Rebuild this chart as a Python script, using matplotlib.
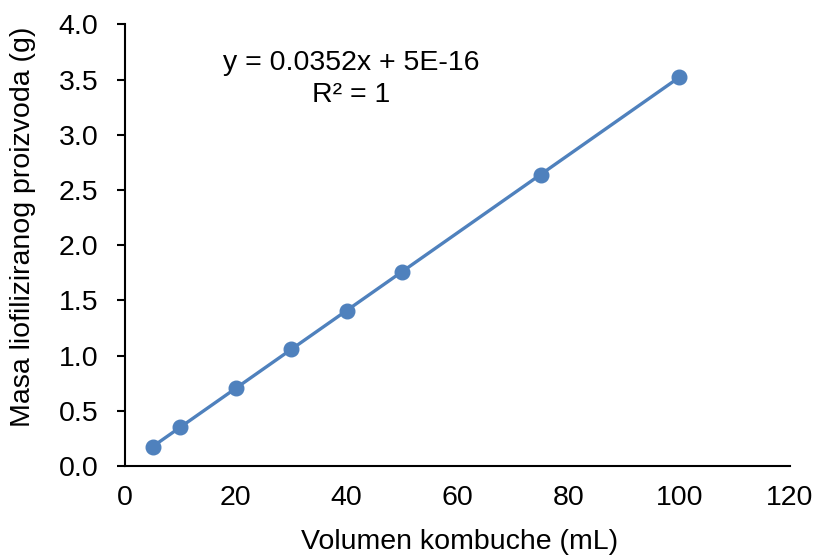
import matplotlib
matplotlib.use("Agg")
import matplotlib.pyplot as plt

plt.rcParams['font.family'] = ['Liberation Sans', 'DejaVu Sans']

# podaci
volumen = [5, 10, 20, 30, 40, 50, 75, 100]
masa = [0.176, 0.352, 0.704, 1.056, 1.408, 1.76, 2.64, 3.52]

fs = 20.5

fig = plt.figure(figsize=(8.19, 5.59), dpi=100)
ax = fig.add_axes([0.1526, 0.1664, 0.812, 0.790])

ax.plot(volumen, masa, color='#4F81BD', lw=2.4, marker='o', ms=10.5, zorder=3)

ax.set_xlim(0, 120)
ax.set_ylim(0, 4.0)
ax.set_xticks(range(0, 121, 20))
ax.set_yticks([i * 0.5 for i in range(9)])
ax.set_yticklabels(['%.1f' % (i * 0.5) for i in range(9)])

for s in ['top', 'right']:
    ax.spines[s].set_visible(False)
for s in ['left', 'bottom']:
    ax.spines[s].set_linewidth(1.5)
    ax.spines[s].set_color('#000000')

ax.tick_params(axis='y', direction='out', length=6, width=1.5, labelsize=fs, pad=13)
ax.tick_params(axis='x', length=0, labelsize=fs, pad=14)

ax.set_xlabel('Volumen kombuche (mL)', fontsize=fs)
ax.set_ylabel('Masa liofiliziranog proizvoda (g)', fontsize=fs)
ax.xaxis.set_label_coords(0.503, -0.143)
ax.yaxis.set_label_coords(-0.134, 0.541)

ax.text(0.34, 0.876, 'y = 0.0352x + 5E-16\nR² = 1', transform=ax.transAxes,
        ha='center', va='center', fontsize=fs, linespacing=1.3)

fig.savefig('out.png', dpi=100)
